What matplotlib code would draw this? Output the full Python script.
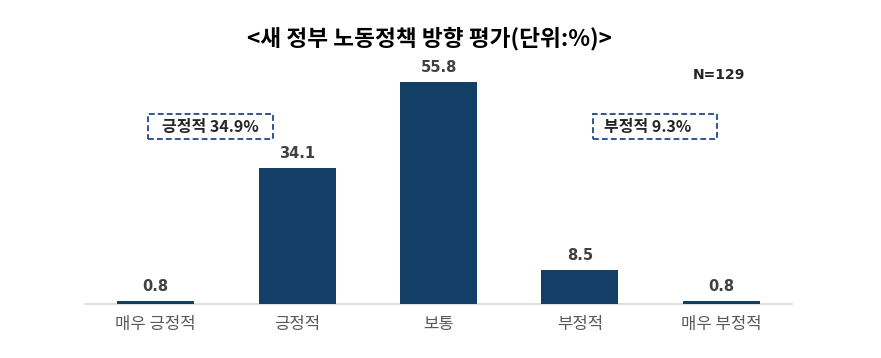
import matplotlib.pyplot as plt
from matplotlib.patches import Rectangle

plt.rcParams['font.family'] = ['Noto Sans CJK KR', 'DejaVu Sans']
latin_first = ['DejaVu Sans', 'Noto Sans CJK KR']

categories = ['매우 긍정적', '긍정적', '보통', '부정적', '매우 부정적']
values = [0.8, 34.1, 55.8, 8.5, 0.8]
title = '<새 정부 노동정책 방향 평가(단위:%)>'
positive_note = '긍정적 34.9%'
negative_note = '부정적 9.3%'
n_note = 'N=129'

bar_color = '#133e66'
W, H = 881, 358

fig = plt.figure(figsize=(W / 100, H / 100), dpi=100)
ax = fig.add_axes([0.0965, 0.1508, 0.8025, 0.7228])

x = range(len(categories))
ax.bar(x, values, width=0.545, color=bar_color, zorder=3)
for i, v in zip(x, values):
    ax.annotate(f'{v:.1f}', xy=(i, v), xytext=(0, 10.5),
                textcoords='offset points', ha='center', va='center',
                fontsize=10.5, fontweight='bold', color='#404040',
                family=latin_first)

ax.set_xlim(-0.5, 4.5)
ax.set_ylim(0, 65)
ax.set_xticks(list(x))
ax.set_xticklabels(categories, fontsize=12, color='#595959')
ax.tick_params(axis='x', length=0, pad=8.5)
ax.set_yticks([])
for s in ['top', 'left', 'right']:
    ax.spines[s].set_visible(False)
ax.spines['bottom'].set_color('#d9d9d9')
ax.spines['bottom'].set_linewidth(1.2)

fig.text(0.488, 1 - 39 / H, title, ha='center', va='center',
         fontsize=16.3, fontweight='bold', color='black')
fig.text(719 / W, 1 - 75 / H, n_note, ha='center', va='center',
         fontsize=10, fontweight='bold', color='#262626', family=latin_first)

# dashed note boxes (pixel corners)
for (x0, x1), note in [((148, 273), positive_note), ((593, 717), negative_note)]:
    fig.add_artist(Rectangle((x0 / W, 1 - 139 / H), (x1 - x0) / W, 25 / H,
                             transform=fig.transFigure, facecolor='none',
                             edgecolor='#2f5597', linewidth=1.4,
                             linestyle=(0, (3, 1.6))))
    fig.text((x0 + x1) / 2 / W - (7 / W if note == negative_note else 0),
             1 - 127 / H, note, ha='center', va='center', fontsize=11.5,
             fontweight='bold', color='#262626')

fig.savefig('out.png', dpi=100)
